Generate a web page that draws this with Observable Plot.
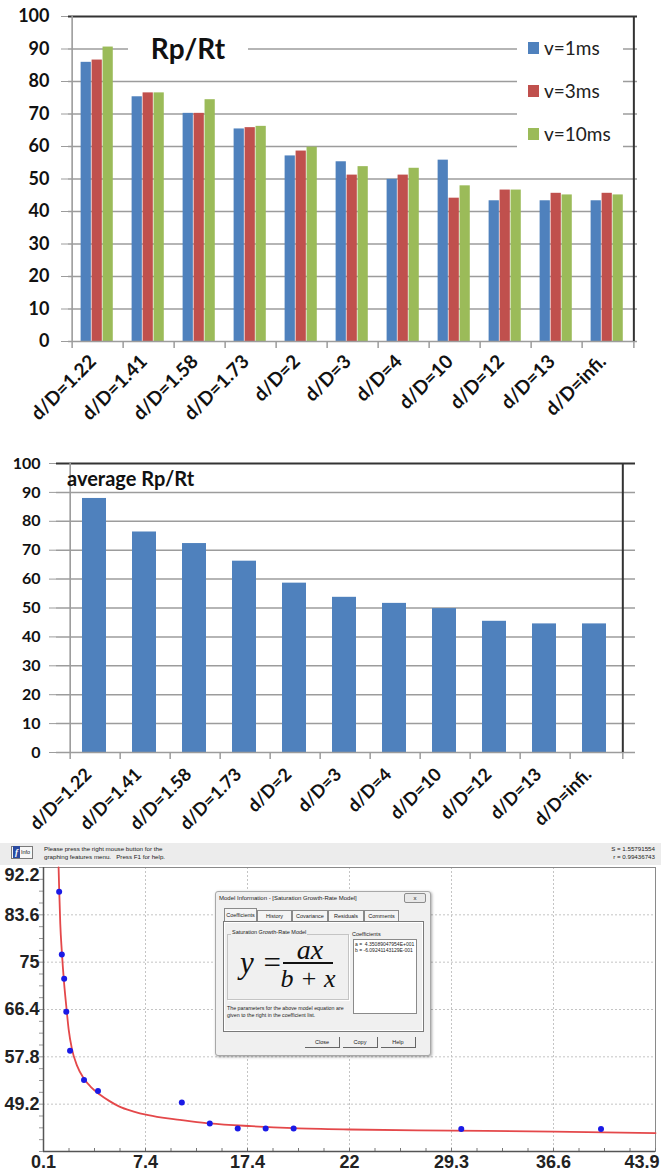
<!DOCTYPE html>
<html><head><meta charset="utf-8">
<script src="https://cdn.jsdelivr.net/npm/d3@7"></script>
<script src="https://cdn.jsdelivr.net/npm/@observablehq/plot@0.6"></script>
<style>
body{margin:0;background:#fff;}
#wrap{position:relative;width:661px;height:1173px;overflow:hidden;font-family:Lato,"Open Sans",sans-serif;color:#111;}
.abs{position:absolute;white-space:nowrap;}
.tiny{font-family:"Liberation Sans",Arial,sans-serif;color:#222;white-space:nowrap;}
</style></head><body><div id="wrap"></div>
<script>
// ---------- data ----------
const categories = ["d/D=1.22","d/D=1.41","d/D=1.58","d/D=1.73","d/D=2","d/D=3","d/D=4","d/D=10","d/D=12","d/D=13","d/D=infi."];
const seriesNames = ["v=1ms","v=3ms","v=10ms"];
const v1ms  = [85.9,75.3,70.2,65.4,57.1,55.3,49.9,55.8,43.3,43.3,43.3];
const v3ms  = [86.6,76.5,70.2,65.8,58.6,51.2,51.2,44.1,46.6,45.6,45.6];
const v10ms = [90.6,76.5,74.4,66.2,59.8,53.8,53.3,47.9,46.6,45.1,45.1];
const average = [87.9,76.3,72.3,66.2,58.6,53.7,51.6,49.8,45.4,44.5,44.5];
const barTicks = [0,10,20,30,40,50,60,70,80,90,100];
const seriesColors = ["#4F81BD","#C0504D","#9BBB59"];

// fitted model panel
const pointX = [1.22,1.41,1.58,1.73,2,3,4,10,12,14,16,18,30,40];
const pointY = [87.8,76.4,72.0,66.0,58.9,53.6,51.6,49.5,45.7,44.8,44.8,44.8,44.7,44.7];
const curveX = [1.18,1.22,1.3,1.41,1.58,1.73,1.9,2.13,2.5,3.0,3.5,4.1,4.8,5.5,6.5,7.6,9,10,12,15,18,22,29.3,36.6,43.9];
const curveY = [92.2,88.5,82.0,77.0,71.0,67.0,62.8,59.3,56.2,53.8,52.3,51.0,49.8,48.8,47.9,47.2,46.6,46.3,45.7,45.2,44.85,44.6,44.4,44.2,43.95];
const fitTicksX = [0.1,7.4,14.7,22,29.3,36.6,43.9];
const fitTickLabelsX = ["0.1","7.4","17.4","22","29.3","36.6","43.9"];
const fitTicksY = [49.2,57.8,66.4,75,83.6,92.2];
const fitTickLabelsY = ["49.2","57.8","66.4","75","83.6","92.2"];
const coefA = "4.35089047954E+001";
const coefB = "-6.09241143129E-001";
const statS = "S = 1.55791554";
const statR = "r = 0.99436743";

// ---------- helpers ----------
const wrap = document.getElementById("wrap");
const W = 661;
function place(node, left, top){ const d=document.createElement("div"); d.className="abs"; d.style.left=left+"px"; d.style.top=top+"px"; d.appendChild(node); wrap.appendChild(d); return d; }
function box(html, css, cls){ const d=document.createElement("div"); d.className="abs" + (cls ? " "+cls : ""); d.style.cssText += css; d.innerHTML = html; wrap.appendChild(d); return d; }
const baseStyle = {fontFamily:"Lato, 'Open Sans', sans-serif", background:"transparent", overflow:"visible", color:"#111"};

// ---------- chart 1: grouped bars ----------
const m1 = {top:16, right:24, bottom:104, left:68};
const H1 = 445;
const band1 = (W - m1.left - m1.right) / categories.length;
const barW1 = band1 * 0.212;
const lead1 = (band1 - 3*barW1)/2 - 0.8;
const rows1 = categories.flatMap((c,i)=>[v1ms,v3ms,v10ms].map((arr,j)=>({cat:c, s:j, value:arr[i]})));
const last = categories[categories.length-1], first = categories[0];

const chart1 = Plot.plot({
  width: W, height: H1,
  marginTop:m1.top, marginRight:m1.right, marginBottom:m1.bottom, marginLeft:m1.left,
  style: baseStyle,
  x: {domain: categories, padding: 0, label: null},
  y: {domain: [0,100], label: null},
  marks: [
    Plot.gridY(barTicks.filter(v=>v>0 && v<100), {stroke:"#9c9c9c", strokeOpacity:1, strokeWidth:1.5}),
    ...seriesNames.map((s,j)=>Plot.barY(rows1.filter(d=>d.s===j), {
      x:"cat", y:"value", fill: seriesColors[j],
      insetLeft: lead1 + j*barW1, insetRight: band1 - lead1 - (j+1)*barW1
    })),
    Plot.ruleY([0], {stroke:"#9c9c9c", strokeWidth:1.6}),
    Plot.ruleY([100], {stroke:"#333", strokeWidth:2}),
    Plot.ruleX([first], {x:d=>d, dx:-band1/2, y1:0, y2:100, stroke:"#9c9c9c", strokeWidth:1.6}),
    Plot.ruleX([last], {x:d=>d, dx:band1/2, y1:0, y2:100, stroke:"#333", strokeWidth:2}),
    Plot.ruleX(categories, {x:d=>d, dx:-band1/2, y1:0, y2:0, insetBottom:-7, stroke:"#9c9c9c", strokeWidth:1.5}),
    Plot.ruleX([last], {x:d=>d, dx:band1/2, y1:0, y2:0, insetBottom:-7, stroke:"#9c9c9c", strokeWidth:1.5}),
    Plot.axisY(barTicks, {label:null, tickSize:7, tickPadding:12, stroke:"#9c9c9c", fill:"#111", fontSize:18, fontWeight:"bold", tickFormat:d=>String(d)}),
    Plot.axisX({label:null, tickSize:0, tickPadding:17, tickRotate:-45, dx:-5, fill:"#111", fontSize:19, fontWeight:"bold"})
  ]
});
place(chart1, 0, 0);

// title and legend of chart 1 (white boxes cover the gridlines like the original)
box("Rp/Rt", "left:128px;top:31px;width:120px;height:34px;background:#fff;font-weight:bold;font-size:28px;line-height:34px;text-align:center;color:#111;");
box("", "left:517px;top:30px;width:106px;height:134px;background:#fff;");
seriesNames.forEach((s,j)=>{
  const y = [48,91,134][j];
  box("", `left:528px;top:${y-6}px;width:11px;height:12px;background:${seriesColors[j]};`);
  box(s, `left:544px;top:${y-12}px;height:24px;line-height:24px;font-size:19px;color:#222;`);
});

// ---------- chart 2: average bars ----------
const m2 = {top:18, right:26, bottom:91, left:56};
const H2 = 398;
const band2 = (W - m2.left - m2.right) / categories.length;
const rows2 = categories.map((c,i)=>({cat:c, value:average[i]}));
const chart2 = Plot.plot({
  width: W, height: H2,
  marginTop:m2.top, marginRight:m2.right, marginBottom:m2.bottom, marginLeft:m2.left,
  style: baseStyle,
  x: {domain: categories, padding: 0.53, label: null},
  y: {domain: [0,100], label: null},
  marks: [
    Plot.gridY(barTicks.filter(v=>v>0 && v<100), {stroke:"#9c9c9c", strokeOpacity:1, strokeWidth:1.5}),
    Plot.barY(rows2, {x:"cat", y:"value", fill:seriesColors[0], dx:-2}),
    Plot.ruleY([0], {stroke:"#9c9c9c", strokeWidth:1.6}),
    Plot.ruleY([100], {stroke:"#333", strokeWidth:2}),
    Plot.ruleX([first], {x:d=>d, dx:-band2/2, y1:0, y2:100, stroke:"#9c9c9c", strokeWidth:1.6}),
    Plot.ruleX([last], {x:d=>d, dx:band2/2, y1:0, y2:100, stroke:"#333", strokeWidth:2}),
    Plot.ruleX(categories, {x:d=>d, dx:-band2/2, y1:0, y2:0, insetBottom:-7, stroke:"#9c9c9c", strokeWidth:1.5}),
    Plot.ruleX([last], {x:d=>d, dx:band2/2, y1:0, y2:0, insetBottom:-7, stroke:"#9c9c9c", strokeWidth:1.5}),
    Plot.axisY(barTicks, {label:null, tickSize:7, tickPadding:9, stroke:"#9c9c9c", fill:"#111", fontSize:16, fontWeight:"bold", tickFormat:d=>String(d)}),
    Plot.axisX({label:null, tickSize:0, tickPadding:19, tickRotate:-45, dx:-8, fill:"#111", fontSize:18, fontWeight:"bold"})
  ]
});
place(chart2, 0, 445);
box("average Rp/Rt", "left:67px;top:466px;font-weight:bold;font-size:20px;line-height:24px;color:#111;");

// ---------- chart 3: fitted model screenshot ----------
const H3 = 330;
const labX = new Map(fitTicksX.map((v,i)=>[v, fitTickLabelsX[i]]));
const labY = new Map(fitTicksY.map((v,i)=>[v, fitTickLabelsY[i]]));
const minorX = d3.range(0.1, 43.95, 7.3/4);
const minorY = d3.range(40.6, 92.25, 8.6/4);
const curve = curveX.map((x,i)=>({x, y:curveY[i]}));
const pts = pointX.map((x,i)=>({x, y:pointY[i]}));
const lastX = fitTicksX[fitTicksX.length-1], topY = fitTicksY[fitTicksY.length-1];
const axisFont = {fontSize:18, fontWeight:"bold", fill:"#222"};
const chart3 = Plot.plot({
  width: W, height: H3,
  marginTop:24, marginRight:6, marginBottom:22, marginLeft:43,
  style: {...baseStyle, fontFamily:"'Liberation Sans Narrow','Liberation Sans',Arial,sans-serif"},
  x: {domain:[0.1,43.9], label:null},
  y: {domain:[40.6,92.2], label:null},
  marks: [
    Plot.gridX(fitTicksX.slice(1,-1), {stroke:"#c4c4c4", strokeOpacity:1, strokeDasharray:"2,2"}),
    Plot.gridY(fitTicksY.slice(0,-1), {stroke:"#c4c4c4", strokeOpacity:1, strokeDasharray:"2,2"}),
    Plot.frame({stroke:"#8a8a8a", strokeWidth:1}),
    Plot.ruleX(minorX, {y1:40.6, y2:40.6, insetBottom:3, stroke:"#777"}),
    Plot.ruleY(minorY, {x1:0.1, x2:0.1, insetLeft:-4, stroke:"#999"}),
    Plot.ruleY([40.6], {stroke:"#555", strokeWidth:1.5}),
    Plot.ruleX([0.1], {stroke:"#555", strokeWidth:1.5}),
    Plot.line(curve, {x:"x", y:"y", stroke:"#e4484a", strokeWidth:1.8, curve:"monotone-x"}),
    Plot.dot(pts, {x:"x", y:"y", r:3, fill:"#1a1ae6"}),
    Plot.axisX(fitTicksX.slice(0,-1), {label:null, tickSize:0, tickPadding:4, ...axisFont, tickFormat:d=>labX.get(d)}),
    Plot.axisX([lastX], {label:null, tickSize:0, tickPadding:4, ...axisFont, textAnchor:"end", dx:4, tickFormat:d=>labX.get(d)}),
    Plot.axisY(fitTicksY.slice(0,-1), {label:null, tickSize:0, tickPadding:4, ...axisFont, tickFormat:d=>labY.get(d)}),
    Plot.axisY([topY], {label:null, tickSize:0, tickPadding:4, ...axisFont, dy:8, tickFormat:d=>labY.get(d)})
  ]
});
place(chart3, 0, 843);

// header band of the screenshot
box("", "left:0;top:843px;width:661px;height:22px;background:#ececec;");
box("", "left:11px;top:846px;width:22px;height:13px;border:1px solid #7a7a7a;background:#f7f7f7;box-sizing:border-box;");
box("f", "left:13px;top:846px;width:7px;height:12px;background:#2a4aa0;color:#fff;font-family:'Liberation Serif',serif;font-style:italic;font-weight:bold;font-size:9px;line-height:12px;text-align:center;");
box("Info", "left:21px;top:848px;font-size:5.5px;line-height:8px;", "tiny");
box('Please press the right mouse button for the<br>graphing features menu.&nbsp;&nbsp; Press F1 for help.',
    "left:44px;top:845px;font-size:6.2px;line-height:8px;", "tiny");
box(statS+'<br>'+statR,
    "left:560px;top:845px;width:95px;text-align:right;font-size:6.2px;line-height:8px;", "tiny");

// dialog box "Model Information"
box("", "left:215px;top:891px;width:214px;height:163px;background:#f0f0f0;border:1px solid #a8a8a8;border-radius:3px;box-shadow:1px 1px 3px rgba(0,0,0,0.35);");
box("Model Information - [Saturation Growth-Rate Model]", "left:219px;top:894px;font-size:6px;line-height:8px;", "tiny");
box("x", "left:404px;top:893px;width:20px;height:8px;border:1px solid #8c8c8c;border-radius:2px;font-size:6px;line-height:8px;text-align:center;background:#e8e8e8;", "tiny");
const tabs = [["Coefficients",224,31],["History",257,33],["Covariance",292,34],["Residuals",328,34],["Comments",364,33]];
tabs.forEach(([t,l,w],i)=>{
  box(t, `left:${l}px;top:${i===0?908:910}px;width:${w}px;height:${i===0?13:11}px;border:1px solid #8a8a8a;border-bottom:none;background:#f4f4f4;font-size:5.5px;line-height:${i===0?13:11}px;text-align:center;`, "tiny");
});
box("", "left:223px;top:921px;width:199px;height:109px;border:1px solid #7a7a7a;box-shadow:inset 0 0 0 1px #fff;background:#f0f0f0;");
box("", "left:227px;top:934px;width:120px;height:64px;border:1px solid #c4c4c4;box-shadow:1px 1px 0 #fff;");
box("Saturation Growth-Rate Model", "left:231px;top:929px;padding:0 1px;background:#f0f0f0;font-size:5.5px;line-height:7px;", "tiny");
const serif = "font-family:'Liberation Serif','DejaVu Serif',serif;font-style:italic;color:#111;";
box("y =", `left:240px;top:946px;font-size:31px;line-height:34px;${serif}`);
box("ax", `left:310px;top:940px;font-size:28px;line-height:20px;transform:translateX(-50%);${serif}`);
box("", "left:283px;top:962px;width:50px;height:1.5px;background:#111;");
box("b + x", `left:279px;top:966px;width:58px;text-align:center;font-size:26px;line-height:26px;${serif}`);
box("Coefficients", "left:352px;top:931px;font-size:5.5px;line-height:7px;", "tiny");
box("a =&nbsp; "+coefA+"<br>b = "+coefB, "left:353px;top:939px;width:64px;height:75px;background:#fff;border:1px solid #8a8a8a;font-size:5px;line-height:6px;padding:1px 1px;box-sizing:border-box;overflow:hidden;", "tiny");
box("The parameters for the above model equation are<br>given to the right in the coefficient list.", "left:227px;top:1005px;font-size:5.3px;line-height:7px;", "tiny");
[["Close",305],["Copy",343],["Help",381]].forEach(([t,l])=>{
  box(t, `left:${l}px;top:1037px;width:34px;height:10px;border-right:1px solid #666;border-bottom:1px solid #666;font-size:5.5px;line-height:10px;text-align:center;`, "tiny");
});
</script></body></html>
